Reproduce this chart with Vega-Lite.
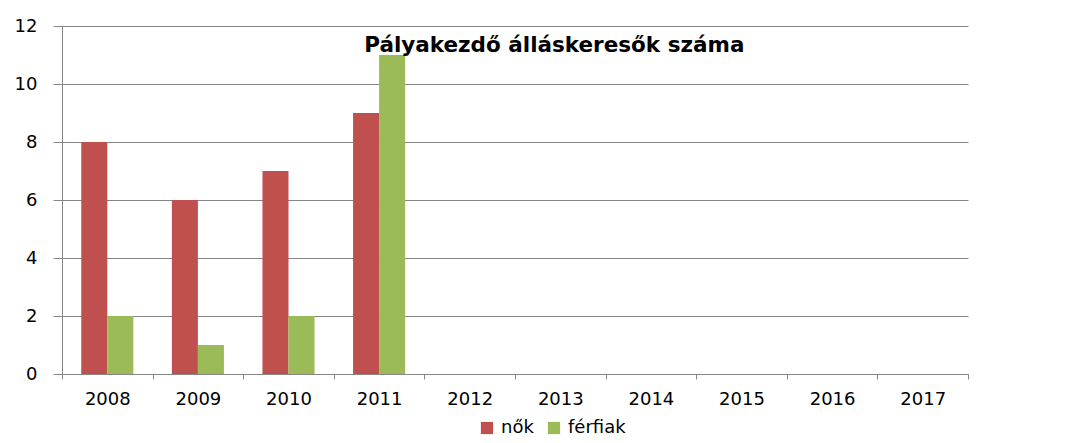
{
  "$schema": "https://vega.github.io/schema/vega-lite/v6.json",
  "autosize": {"type": "none"},
  "padding": {"left": 62, "top": 26, "right": 119, "bottom": 69},
  "width": 906,
  "height": 348,
  "background": "white",
  "layer": [
    {
      "data": {
        "values": [
          {"ev": "2008", "nem": "nők", "ertek": 8},
          {"ev": "2008", "nem": "férfiak", "ertek": 2},
          {"ev": "2009", "nem": "nők", "ertek": 6},
          {"ev": "2009", "nem": "férfiak", "ertek": 1},
          {"ev": "2010", "nem": "nők", "ertek": 7},
          {"ev": "2010", "nem": "férfiak", "ertek": 2},
          {"ev": "2011", "nem": "nők", "ertek": 9},
          {"ev": "2011", "nem": "férfiak", "ertek": 11}
        ]
      },
      "mark": {"type": "bar"},
      "encoding": {
        "x": {
          "field": "ev",
          "type": "nominal",
          "scale": {
            "domain": ["2008", "2009", "2010", "2011", "2012", "2013", "2014", "2015", "2016", "2017"],
            "paddingInner": 0,
            "paddingOuter": 0
          },
          "axis": {
            "title": null,
            "labelAngle": 0,
            "tickBand": "extent",
            "tickSize": 5,
            "tickColor": "#868686",
            "domainColor": "#868686",
            "labelFont": "DejaVu Sans",
            "labelFontSize": 18,
            "labelColor": "#000000",
            "labelPadding": 11,
            "grid": false
          }
        },
        "xOffset": {
          "field": "nem",
          "type": "nominal",
          "scale": {"domain": ["nők", "férfiak"], "paddingInner": 0, "paddingOuter": 0.74}
        },
        "y": {
          "field": "ertek",
          "type": "quantitative",
          "scale": {"domain": [0, 12]},
          "axis": {
            "title": null,
            "values": [0, 2, 4, 6, 8, 10, 12],
            "grid": true,
            "gridColor": "#868686",
            "tickColor": "#868686",
            "domainColor": "#868686",
            "tickSize": 9,
            "labelFont": "DejaVu Sans",
            "labelFontSize": 18,
            "labelColor": "#000000",
            "labelPadding": 16
          }
        },
        "color": {
          "field": "nem",
          "type": "nominal",
          "scale": {"domain": ["nők", "férfiak"], "range": ["#C0504D", "#9BBB59"]},
          "legend": {
            "title": null,
            "orient": "none",
            "direction": "horizontal",
            "legendX": 416,
            "legendY": 393,
            "symbolType": "square",
            "symbolSize": 150,
            "symbolStrokeWidth": 0,
            "labelFont": "DejaVu Sans",
            "labelFontSize": 18,
            "labelColor": "#000000",
            "labelOffset": 5,
            "columnPadding": 11
          }
        }
      }
    },
    {
      "data": {"values": [{"cim": "Pályakezdő álláskeresők száma"}]},
      "mark": {
        "type": "text",
        "font": "DejaVu Sans",
        "fontSize": 21.5,
        "fontWeight": "bold",
        "color": "#000000",
        "align": "center",
        "baseline": "middle",
        "dx": -6
      },
      "encoding": {
        "text": {"field": "cim", "type": "nominal"},
        "x": {"datum": "2013", "type": "nominal"},
        "y": {"datum": 11.3, "type": "quantitative"}
      }
    }
  ],
  "config": {
    "view": {"stroke": null},
    "axis": {"gridOpacity": 1}
  }
}
